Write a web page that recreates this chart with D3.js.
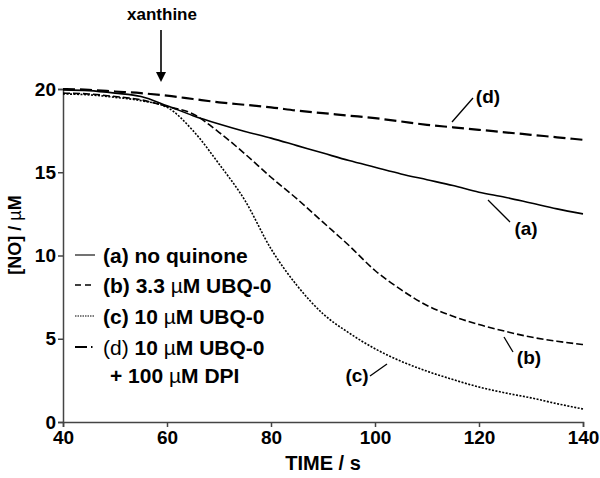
<!DOCTYPE html>
<html><head><meta charset="utf-8">
<script src="https://cdn.jsdelivr.net/npm/d3@7"></script>
<style>body{margin:0;background:#fff}svg{display:block}text{font-family:"Liberation Sans",Arial,sans-serif}</style>
</head><body>
<svg id="c" width="600" height="478"></svg>
<script>
const times = [40,45,50,55,60,65,70,75,80,85,90,95,100,105,110,115,120,125,130,135,140];
const seriesA = [19.95,19.9,19.75,19.55,19.0,18.4,17.9,17.45,17.05,16.6,16.15,15.7,15.3,14.9,14.55,14.2,13.8,13.5,13.15,12.8,12.5];
const seriesB = [19.75,19.7,19.55,19.35,18.95,18.5,17.4,16.1,14.7,13.4,12.0,10.6,9.1,7.95,7.0,6.35,5.85,5.45,5.1,4.85,4.65];
const seriesC = [19.7,19.65,19.5,19.3,18.9,17.5,15.5,13.3,10.4,8.2,6.5,5.35,4.4,3.65,3.05,2.55,2.1,1.75,1.45,1.1,0.78];
const seriesD = [20.0,19.95,19.85,19.75,19.6,19.4,19.2,19.05,18.9,18.7,18.55,18.4,18.25,18.05,17.85,17.7,17.55,17.4,17.25,17.1,16.95];
const xTicks = [40,60,80,100,120,140];
const yTicks = [0,5,10,15,20];

const svg = d3.select("#c");
const x = d3.scaleLinear().domain([40,140]).range([63,583]);
const y = d3.scaleLinear().domain([0,20]).range([422,89]);

const styles = {
  a:{dash:null, w:1.6},
  b:{dash:"7,3", w:1.6},
  c:{dash:"2,1.5", w:1.6},
  d:{dash:"12,5", w:2.2}
};

// axes
const xa = svg.append("g").attr("transform","translate(0,422)")
  .call(d3.axisBottom(x).tickValues(xTicks).tickSize(5).tickPadding(4));
const ya = svg.append("g").attr("transform","translate(63,0)")
  .call(d3.axisLeft(y).tickValues(yTicks).tickSize(5).tickPadding(2));
[xa,ya].forEach(g=>{
  g.select(".domain").attr("stroke","#444").attr("stroke-width",1.5);
  g.selectAll(".tick line").attr("stroke","#444").attr("stroke-width",1.5);
  g.selectAll(".tick text").attr("fill","#000").style("font-size","19px").style("font-weight","bold");
});

const line = d3.line().x(d=>x(d[0])).y(d=>y(d[1])).curve(d3.curveMonotoneX);
const all = {a:seriesA,b:seriesB,c:seriesC,d:seriesD};
Object.entries(all).forEach(([k,vals])=>{
  svg.append("path").datum(times.map((t,i)=>[t,vals[i]]))
    .attr("d",line).attr("fill","none").attr("stroke","#000")
    .attr("stroke-width",styles[k].w).attr("stroke-dasharray",styles[k].dash);
});

// axis titles
svg.append("text").attr("x",323).attr("y",470).attr("text-anchor","middle")
  .style("font-size","20px").style("font-weight","bold").text("TIME / s");
const yl = svg.append("text").attr("transform","translate(21,235) rotate(-90)").attr("text-anchor","middle")
  .style("font-size","18px").style("font-weight","bold");
yl.append("tspan").text("[NO] / ");
yl.append("tspan").style("font-weight","normal").text("µ");
yl.append("tspan").text("M");

// xanthine arrow
svg.append("text").attr("x",162).attr("y",20).attr("text-anchor","middle")
  .style("font-size","17px").style("font-weight","bold").text("xanthine");
svg.append("line").attr("x1",161).attr("x2",161).attr("y1",30).attr("y2",74).attr("stroke","#000").attr("stroke-width",1.6);
svg.append("path").attr("d","M156,72 L161,82 L166,72 Z").attr("fill","#000");

// curve labels with leaders
const labels = [
  {t:"(d)", lx:488, ly:103, x1:452, y1:122, x2:473, y2:98},
  {t:"(a)", lx:526, ly:235, x1:488, y1:200, x2:510, y2:222},
  {t:"(b)", lx:529, ly:364, x1:504, y1:337, x2:513, y2:352},
  {t:"(c)", lx:357, ly:382, x1:387, y1:364, x2:370, y2:376}
];
labels.forEach(l=>{
  svg.append("line").attr("x1",l.x1).attr("y1",l.y1).attr("x2",l.x2).attr("y2",l.y2).attr("stroke","#000").attr("stroke-width",1.3);
  svg.append("text").attr("x",l.lx).attr("y",l.ly).attr("text-anchor","middle")
    .style("font-size","19px").style("font-weight","bold").text(l.t);
});

// legend
const legend = [
  {k:"a", parts:[["(a) no quinone","bold"]]},
  {k:"b", parts:[["(b) 3.3 ","bold"],["µ","normal"],["M UBQ-0","bold"]]},
  {k:"c", parts:[["(c) 10 ","bold"],["µ","normal"],["M UBQ-0","bold"]]},
  {k:"d", parts:[["(d) ","normal"],["10 ","bold"],["µ","normal"],["M UBQ-0","bold"]]}
];
const rowY = [255,285,316,347];
const legDash = {a:null, b:"6,4", c:"1.5,1", d:"12,4,1.5,10"};
const legW = {a:1.1, b:1.4, c:1.1, d:2.2};
legend.forEach((L,i)=>{
  const yy = rowY[i];
  svg.append("line").attr("x1",75).attr("x2",95).attr("y1",yy).attr("y2",yy)
    .attr("stroke","#000").attr("stroke-width",legW[L.k])
    .attr("stroke-dasharray", legDash[L.k]);
  const t = svg.append("text").attr("x",103).attr("y",yy+8).style("font-size","21px");
  L.parts.forEach(p=>t.append("tspan").style("font-weight",p[1]).text(p[0]));
});
const t5 = svg.append("text").attr("x",110).attr("y",383).style("font-size","21px");
t5.append("tspan").style("font-weight","bold").text("+ 100 ");
t5.append("tspan").style("font-weight","normal").text("µ");
t5.append("tspan").style("font-weight","bold").text("M DPI");
</script>
</body></html>
